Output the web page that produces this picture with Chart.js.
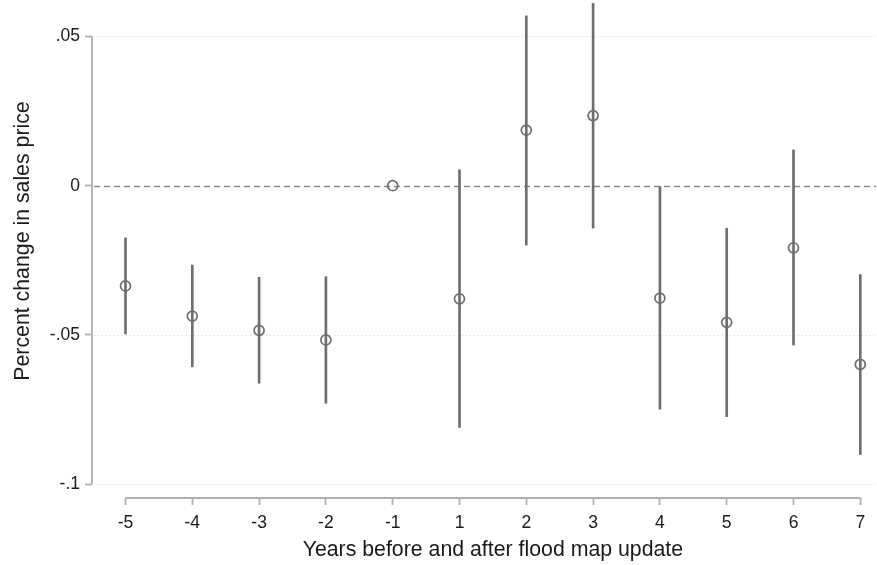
<!DOCTYPE html>
<html lang="en">
<head>
  <meta charset="UTF-8">
  <title>Event study: sales price</title>
  <script src="https://cdn.jsdelivr.net/npm/chart.js"></script>
  <style>
    body { margin: 0; background: #fff; }
  </style>
</head>
<body>
<canvas id="myChart" width="877" height="565"></canvas>
<script>
  // Years relative to the flood map update
  const years = ['-5', '-4', '-3', '-2', '-1', '1', '2', '3', '4', '5', '6', '7'];
  // Point estimates and confidence bounds (-1 is the reference year, no interval)
  const coef   = [-0.0336, -0.0437, -0.0485, -0.0517, 0, -0.0379, 0.0186, 0.0235, -0.0377, -0.0458, -0.0208, -0.0599];
  const ciLow  = [-0.0497, -0.0607, -0.0662, -0.0729, null, -0.0810, -0.0199, -0.0142, -0.0749, -0.0774, -0.0534, -0.0901];
  const ciHigh = [-0.0175, -0.0266, -0.0307, -0.0305, null, 0.0053, 0.0569, 0.0611, -0.0003, -0.0143, 0.0120, -0.0298];
  // y axis ticks (ascending)
  const yTicks  = [-0.1, -0.05, 0, 0.05];
  const yLabels = ['-.1', '-.05', '0', '.05'];

  const xTitle = 'Years before and after flood map update';
  const yTitle = 'Percent change in sales price';

  const FONT = "'Liberation Sans', Arial, sans-serif";
  const markColor = '#6e6e6e';
  const axisColor = '#b0b0b0';

  const points = coef.map((v, i) => ({ x: i, y: v }));
  const bars = [];
  ciLow.forEach((lo, i) => {
    if (lo !== null) bars.push({ x: i, y: [lo, ciHigh[i]] });
  });

  // grid, axis lines and titles in the Stata look
  const stataFrame = {
    id: 'stataFrame',
    beforeDatasetsDraw(chart) {
      const { ctx, chartArea, scales: { x, y } } = chart;
      ctx.save();
      yTicks.forEach(v => {
        const py = Math.round(y.getPixelForValue(v)) + 0.5;
        ctx.beginPath();
        if (v === 0) {
          ctx.strokeStyle = '#8a8a8a';
          ctx.lineWidth = 1.3;
          ctx.setLineDash([6, 4]);
        } else {
          ctx.strokeStyle = '#d2d2d2';
          ctx.lineWidth = 1;
          ctx.setLineDash([1, 3]);
        }
        ctx.moveTo(chartArea.left + 2, py);
        ctx.lineTo(chartArea.right, py);
        ctx.stroke();
      });
      ctx.setLineDash([]);
      ctx.strokeStyle = axisColor;
      ctx.lineWidth = 1.8;
      // y axis line
      ctx.beginPath();
      ctx.moveTo(chartArea.left, y.getPixelForValue(yTicks[yTicks.length - 1]));
      ctx.lineTo(chartArea.left, y.getPixelForValue(yTicks[0]));
      ctx.stroke();
      // x axis line
      ctx.beginPath();
      ctx.moveTo(x.getPixelForValue(0), chartArea.bottom);
      ctx.lineTo(x.getPixelForValue(years.length - 1), chartArea.bottom);
      ctx.stroke();
      ctx.restore();
    },
    afterDraw(chart) {
      const { ctx, scales: { x } } = chart;
      ctx.save();
      ctx.fillStyle = '#1a1a1a';
      ctx.font = '21.3px ' + FONT;
      ctx.textAlign = 'center';
      ctx.textBaseline = 'alphabetic';
      const cx = (x.getPixelForValue(0) + x.getPixelForValue(years.length - 1)) / 2;
      ctx.fillText(xTitle, cx, 556);
      ctx.translate(28.5, 241);
      ctx.rotate(-Math.PI / 2);
      ctx.fillText(yTitle, 0, 0);
      ctx.restore();
    }
  };

  const ctx = document.getElementById('myChart').getContext('2d');
  const myChart = new Chart(ctx, {
    type: 'scatter',
    data: {
      datasets: [
        {
          type: 'scatter',
          label: 'Estimate',
          data: points,
          order: 0,
          pointStyle: 'circle',
          pointRadius: 5,
          pointBorderWidth: 1.7,
          pointBorderColor: markColor,
          pointBackgroundColor: 'rgba(0,0,0,0)',
          showLine: false,
          clip: false
        },
        {
          type: 'bar',
          label: 'CI',
          data: bars,
          order: 1,
          backgroundColor: markColor,
          borderWidth: 0,
          barThickness: 2,
          grouped: false,
          clip: false
        }
      ]
    },
    options: {
      responsive: false,
      animation: false,
      devicePixelRatio: 1,
      layout: { autoPadding: false, padding: { left: 0, right: 1, top: 0, bottom: 0 } },
      plugins: {
        legend: { display: false },
        tooltip: { enabled: false }
      },
      scales: {
        x: {
          type: 'linear',
          offset: false,
          min: -0.5015,
          max: 11.235,
          afterBuildTicks: scale => { scale.ticks = years.map((_, i) => ({ value: i })); },
          afterFit: scale => { scale.height = 67; scale.paddingLeft = 0; scale.paddingRight = 0; },
          border: { display: false },
          grid: { display: true, offset: false, drawOnChartArea: false, drawTicks: true, tickLength: 7, tickColor: axisColor, tickWidth: 1.8 },
          ticks: {
            autoSkip: false,
            maxRotation: 0,
            padding: 8,
            color: '#1a1a1a',
            font: { family: FONT, size: 17.5 },
            callback: v => years[v]
          }
        },
        y: {
          type: 'linear',
          min: -0.10466,
          max: 0.06223,
          afterBuildTicks: scale => { scale.ticks = yTicks.map(v => ({ value: v })); },
          afterFit: scale => { scale.width = 92; scale.paddingTop = 0; scale.paddingBottom = 0; },
          border: { display: false },
          grid: { display: true, drawOnChartArea: false, drawTicks: true, tickLength: 7, tickColor: axisColor, tickWidth: 1.8 },
          ticks: {
            padding: 5,
            color: '#1a1a1a',
            font: { family: FONT, size: 17.5 },
            callback: (v, i) => yLabels[i]
          }
        }
      }
    },
    plugins: [stataFrame]
  });
</script>
</body>
</html>
